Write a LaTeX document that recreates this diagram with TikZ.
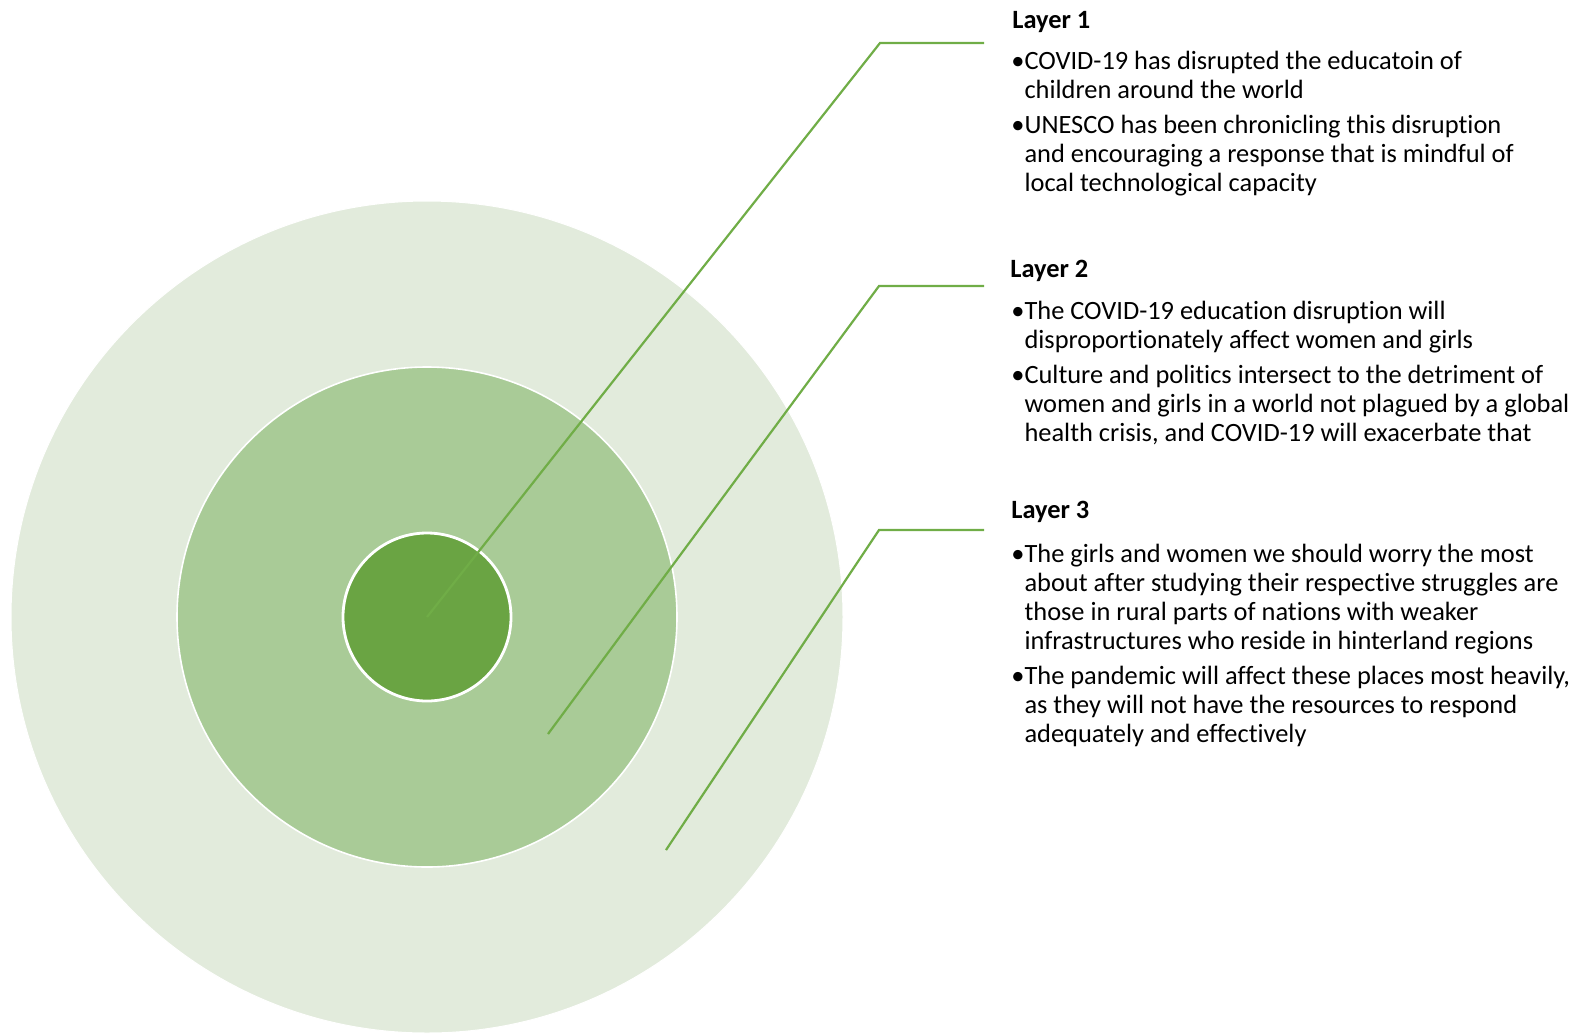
\documentclass[tikz,border=0pt]{standalone}
\usepackage{fontspec}
\setmainfont{Carlito}[Ligatures=NoCommon]
\definecolor{outerfill}{HTML}{E2EBDC}
\definecolor{midfill}{HTML}{A9CB97}
\definecolor{corefill}{HTML}{6AA443}
\definecolor{leadgreen}{HTML}{70AD47}
\tikzset{
  ring/.style={circle, draw=white, inner sep=0pt},
  leader/.style={draw=leadgreen, line width=1.1pt},
  heading/.style={anchor=base west, inner sep=0pt, font=\fontsize{13.2}{14.5}\selectfont\bfseries},
  points/.style={anchor=base west, inner sep=0pt, font=\fontsize{13.2}{14.5}\selectfont},
}

\begin{document}
\begin{tikzpicture}[x=0.5pt, y=-0.5pt]
    \useasboundingbox (0,0) rectangle (1591,1035);

    % the three layers
    \node [ring, fill=outerfill, line width=0.5pt, minimum size=416pt] (outer) at (427,617) {};
    \node [ring, fill=midfill, line width=0.8pt, minimum size=250pt] (middle) at (427,617) {};
    \node [ring, fill=corefill, line width=1.4pt, minimum size=84pt] (core) at (427,617) {};

    % leader lines
    \coordinate (mid_pt) at (548,734);
    \coordinate (out_pt) at (666,850);
    \coordinate (elbow1) at (880,43);
    \coordinate (elbow2) at (879,286);
    \coordinate (elbow3) at (879,530);
    \coordinate (end1) at (984,43);
    \coordinate (end2) at (984,286);
    \coordinate (end3) at (984,530);
    \draw [leader] (core.center) -- (elbow1) -- (end1);
    \draw [leader] (mid_pt) -- (elbow2) -- (end2);
    \draw [leader] (out_pt) -- (elbow3) -- (end3);

    % texts
    \node [heading] (head1) at (1012,28) {Layer 1};
    \node [points] (text1) at (1011,69) {\begin{tabular}[t]{@{}l@{}l@{}}
        \textbullet & COVID-19 has disrupted the educatoin of\\
        & children around the world\\[3pt]
        \textbullet & UNESCO has been chronicling this disruption\\
        & and encouraging a response that is mindful of\\
        & local technological capacity
    \end{tabular}};

    \node [heading] (head2) at (1010,277) {Layer 2};
    \node [points] (text2) at (1011,319) {\begin{tabular}[t]{@{}l@{}l@{}}
        \textbullet & The COVID-19 education disruption will\\
        & disproportionately affect women and girls\\[3pt]
        \textbullet & Culture and politics intersect to the detriment of\\
        & women and girls in a world not plagued by a global\\
        & health crisis, and COVID-19 will exacerbate that
    \end{tabular}};

    \node [heading] (head3) at (1011,518) {Layer 3};
    \node [points] (text3) at (1011,562) {\begin{tabular}[t]{@{}l@{}l@{}}
        \textbullet & The girls and women we should worry the most\\
        & about after studying their respective struggles are\\
        & those in rural parts of nations with weaker\\
        & infrastructures who reside in hinterland regions\\[3pt]
        \textbullet & The pandemic will affect these places most heavily,\\
        & as they will not have the resources to respond\\
        & adequately and effectively
    \end{tabular}};
\end{tikzpicture}
\end{document}
